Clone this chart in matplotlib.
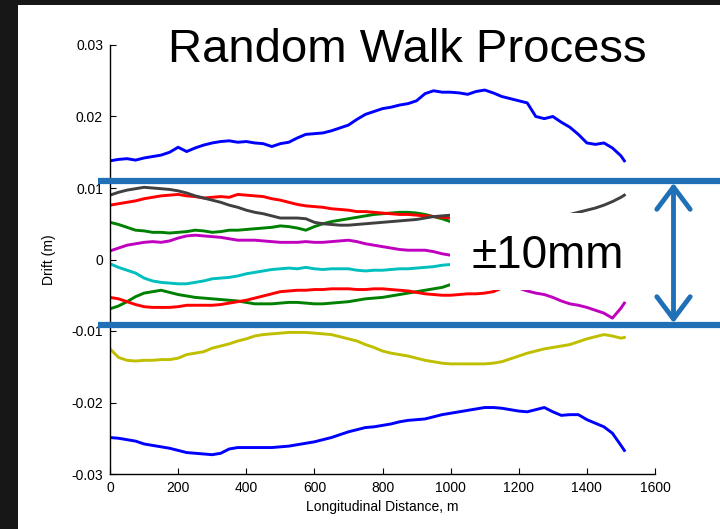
import matplotlib
matplotlib.use("Agg")
import matplotlib.pyplot as plt
from matplotlib.patches import Rectangle, FancyArrowPatch
from matplotlib.lines import Line2D

plt.rcParams['font.family'] = ['Liberation Sans', 'DejaVu Sans']
plt.rcParams['axes.unicode_minus'] = False

# ---------------- data ----------------
distance = list(range(0, 1501, 25)) + [1510]

blue_top = [0.0138, 0.0140, 0.0141, 0.0139, 0.0142, 0.0144, 0.0146, 0.0150, 0.0157, 0.0151,
            0.0156, 0.0160, 0.0163, 0.0165, 0.0166, 0.0164, 0.0165, 0.0163, 0.0162, 0.0158,
            0.0162, 0.0164, 0.0170, 0.0175, 0.0176, 0.0177, 0.0180, 0.0184, 0.0188, 0.0196,
            0.0203, 0.0207, 0.0211, 0.0213, 0.0216, 0.0218, 0.0222, 0.0232, 0.0236, 0.0234,
            0.0234, 0.0233, 0.0231, 0.0235, 0.0237, 0.0233, 0.0228, 0.0225, 0.0222, 0.0219,
            0.0200, 0.0197, 0.0200, 0.0192, 0.0185, 0.0175, 0.0163, 0.0161, 0.0163, 0.0156,
            0.0145, 0.0138]

gray = [0.0090, 0.0094, 0.0097, 0.0099, 0.0101, 0.0100, 0.0099, 0.0098, 0.0096, 0.0093,
        0.0089, 0.0086, 0.0083, 0.0080, 0.0076, 0.0073, 0.0069, 0.0066, 0.0064, 0.0061,
        0.0058, 0.0058, 0.0058, 0.0057, 0.0052, 0.0050, 0.0049, 0.0048, 0.0048, 0.0049,
        0.0050, 0.0051, 0.0052, 0.0053, 0.0054, 0.0055, 0.0056, 0.0058, 0.0060, 0.0061,
        0.0062, 0.0062, 0.0062, 0.0061, 0.0061, 0.0060, 0.0060, 0.0060, 0.0059, 0.0059,
        0.0059, 0.0060, 0.0060, 0.0061, 0.0063, 0.0066, 0.0069, 0.0072, 0.0076, 0.0081,
        0.0087, 0.0090]

red_top = [0.0076, 0.0078, 0.0080, 0.0082, 0.0085, 0.0087, 0.0089, 0.0090, 0.0091, 0.0089,
           0.0088, 0.0086, 0.0087, 0.0088, 0.0087, 0.0091, 0.0090, 0.0089, 0.0088, 0.0085,
           0.0083, 0.0080, 0.0077, 0.0075, 0.0074, 0.0073, 0.0071, 0.0070, 0.0069, 0.0067,
           0.0067, 0.0066, 0.0065, 0.0064, 0.0063, 0.0063, 0.0062, 0.0061, 0.0060, 0.0059,
           0.0058, 0.0057, 0.0056, 0.0055, 0.0054, 0.0054, 0.0053, 0.0052, 0.0051, 0.0050,
           0.0050, 0.0049, 0.0048, 0.0048, 0.0047, 0.0046, 0.0046, 0.0045, 0.0045, 0.0044,
           0.0044, 0.0044]

green_top = [0.0052, 0.0049, 0.0045, 0.0041, 0.0040, 0.0038, 0.0038, 0.0037, 0.0038, 0.0039,
             0.0041, 0.0040, 0.0038, 0.0039, 0.0041, 0.0041, 0.0042, 0.0043, 0.0044, 0.0045,
             0.0047, 0.0046, 0.0044, 0.0041, 0.0046, 0.0050, 0.0053, 0.0055, 0.0057, 0.0059,
             0.0061, 0.0063, 0.0064, 0.0065, 0.0066, 0.0066, 0.0065, 0.0063, 0.0060, 0.0057,
             0.0053, 0.0050, 0.0048, 0.0046, 0.0044, 0.0043, 0.0041, 0.0040, 0.0038, 0.0037,
             0.0036, 0.0035, 0.0034, 0.0033, 0.0033, 0.0032, 0.0031, 0.0031, 0.0030, 0.0030,
             0.0029, 0.0029]

magenta = [0.0012, 0.0016, 0.0020, 0.0022, 0.0024, 0.0025, 0.0024, 0.0026, 0.0030, 0.0033,
           0.0034, 0.0033, 0.0032, 0.0031, 0.0029, 0.0027, 0.0027, 0.0027, 0.0026, 0.0025,
           0.0024, 0.0024, 0.0024, 0.0025, 0.0024, 0.0024, 0.0025, 0.0026, 0.0027, 0.0025,
           0.0022, 0.0020, 0.0018, 0.0016, 0.0014, 0.0013, 0.0013, 0.0013, 0.0011, 0.0008,
           0.0006, 0.0000, -0.0006, -0.0012, -0.0018, -0.0024, -0.0030, -0.0035, -0.0040, -0.0044,
           -0.0047, -0.0049, -0.0053, -0.0058, -0.0062, -0.0064, -0.0067, -0.0071, -0.0075, -0.0082,
           -0.0068, -0.0061]

cyan = [-0.0006, -0.0011, -0.0015, -0.0019, -0.0026, -0.0030, -0.0032, -0.0033, -0.0034, -0.0034,
        -0.0032, -0.0030, -0.0027, -0.0026, -0.0025, -0.0023, -0.0020, -0.0018, -0.0016, -0.0014,
        -0.0013, -0.0012, -0.0013, -0.0011, -0.0013, -0.0014, -0.0013, -0.0013, -0.0013, -0.0015,
        -0.0016, -0.0015, -0.0015, -0.0014, -0.0013, -0.0013, -0.0012, -0.0011, -0.0010, -0.0008,
        -0.0007, -0.0006, -0.0006, -0.0005, -0.0005, -0.0006, -0.0007, -0.0008, -0.0009, -0.0010,
        -0.0011, -0.0012, -0.0013, -0.0014, -0.0015, -0.0016, -0.0017, -0.0018, -0.0019, -0.0020,
        -0.0021, -0.0021]

red_bottom = [-0.0053, -0.0055, -0.0059, -0.0063, -0.0066, -0.0067, -0.0067, -0.0067, -0.0066, -0.0064,
              -0.0064, -0.0064, -0.0064, -0.0063, -0.0061, -0.0059, -0.0057, -0.0054, -0.0051, -0.0048,
              -0.0045, -0.0044, -0.0043, -0.0043, -0.0042, -0.0042, -0.0041, -0.0041, -0.0041, -0.0042,
              -0.0042, -0.0041, -0.0041, -0.0042, -0.0043, -0.0044, -0.0046, -0.0048, -0.0049, -0.0050,
              -0.0050, -0.0049, -0.0048, -0.0048, -0.0047, -0.0045, -0.0040, -0.0037, -0.0035, -0.0034,
              -0.0033, -0.0032, -0.0031, -0.0030, -0.0029, -0.0028, -0.0028, -0.0027, -0.0027, -0.0026,
              -0.0026, -0.0026]

green_bottom = [-0.0069, -0.0065, -0.0059, -0.0052, -0.0047, -0.0045, -0.0043, -0.0046, -0.0049, -0.0051,
                -0.0053, -0.0054, -0.0055, -0.0056, -0.0057, -0.0058, -0.0060, -0.0062, -0.0062, -0.0062,
                -0.0061, -0.0060, -0.0060, -0.0061, -0.0062, -0.0062, -0.0061, -0.0060, -0.0059, -0.0057,
                -0.0055, -0.0054, -0.0053, -0.0051, -0.0049, -0.0047, -0.0045, -0.0043, -0.0041, -0.0039,
                -0.0035, -0.0034, -0.0033, -0.0032, -0.0031, -0.0030, -0.0030, -0.0029, -0.0028, -0.0028,
                -0.0027, -0.0027, -0.0026, -0.0026, -0.0025, -0.0025, -0.0024, -0.0024, -0.0023, -0.0023,
                -0.0022, -0.0022]

yellow = [-0.0125, -0.0137, -0.0141, -0.0142, -0.0141, -0.0141, -0.0140, -0.0140, -0.0138, -0.0133,
          -0.0131, -0.0129, -0.0124, -0.0121, -0.0118, -0.0114, -0.0111, -0.0107, -0.0105, -0.0104,
          -0.0103, -0.0102, -0.0102, -0.0102, -0.0103, -0.0104, -0.0105, -0.0108, -0.0111, -0.0114,
          -0.0119, -0.0123, -0.0128, -0.0131, -0.0133, -0.0135, -0.0138, -0.0141, -0.0143, -0.0145,
          -0.0146, -0.0146, -0.0146, -0.0146, -0.0146, -0.0145, -0.0143, -0.0139, -0.0135, -0.0131,
          -0.0128, -0.0125, -0.0123, -0.0121, -0.0119, -0.0115, -0.0111, -0.0108, -0.0105, -0.0107,
          -0.0110, -0.0109]

blue_bottom = [-0.0249, -0.0250, -0.0252, -0.0254, -0.0258, -0.0260, -0.0262, -0.0264, -0.0267, -0.0270,
               -0.0271, -0.0272, -0.0273, -0.0271, -0.0265, -0.0263, -0.0263, -0.0263, -0.0263, -0.0263,
               -0.0262, -0.0261, -0.0259, -0.0257, -0.0255, -0.0252, -0.0249, -0.0245, -0.0241, -0.0238,
               -0.0235, -0.0234, -0.0232, -0.0230, -0.0227, -0.0225, -0.0224, -0.0223, -0.0220, -0.0217,
               -0.0215, -0.0213, -0.0211, -0.0209, -0.0207, -0.0207, -0.0208, -0.0210, -0.0212, -0.0213,
               -0.0210, -0.0207, -0.0213, -0.0218, -0.0217, -0.0217, -0.0224, -0.0229, -0.0234, -0.0243,
               -0.0260, -0.0267]

series = [
    (blue_top, '#0000ff'),
    (blue_bottom, '#0000ff'),
    (yellow, '#bfbf00'),
    (green_bottom, '#008000'),
    (red_bottom, '#ff0000'),
    (cyan, '#00bfbf'),
    (magenta, '#bf00bf'),
    (green_top, '#008000'),
    (red_top, '#ff0000'),
    (gray, '#404040'),
]

x_ticks = [0, 200, 400, 600, 800, 1000, 1200, 1400, 1600]
y_ticks = [-0.03, -0.02, -0.01, 0, 0.01, 0.02, 0.03]
y_tick_labels = ['-0.03', '-0.02', '-0.01', '0', '0.01', '0.02', '0.03']

# ---------------- figure ----------------
W, H = 720, 529
fig = plt.figure(figsize=(W / 100, H / 100), dpi=100)
fig.patch.set_facecolor('#171717')

def fx(px):
    return px / W

def fy(py):
    return 1 - py / H

# white slide panel
fig.add_artist(Rectangle((fx(18), 0), 1 - fx(18), fy(5), transform=fig.transFigure,
                         facecolor='white', edgecolor='none', zorder=-10))

ax = fig.add_axes([fx(110), fy(474), fx(655) - fx(110), fy(45) - fy(474)])
ax.set_facecolor('none')
for vals, col in series:
    ax.plot(distance, vals, color=col, lw=2.1, solid_joinstyle='round')

ax.set_xlim(0, 1600)
ax.set_ylim(-0.03, 0.03)
ax.set_xticks(x_ticks)
ax.set_xticklabels([str(t) for t in x_ticks])
ax.set_yticks(y_ticks)
ax.set_yticklabels(y_tick_labels)
ax.spines['top'].set_visible(False)
ax.spines['right'].set_visible(False)
for s in ('left', 'bottom'):
    ax.spines[s].set_linewidth(1.0)
ax.tick_params(direction='in', length=4, width=0.8, labelsize=10, colors='black', pad=5)
ax.set_xlabel('Longitudinal Distance, m', fontsize=10, labelpad=4)
ax.set_ylabel('Drift (m)', fontsize=10, labelpad=11)

# white box behind the annotation text
fig.add_artist(Rectangle((fx(450), fy(290)), fx(640) - fx(450), fy(213) - fy(290),
                         transform=fig.transFigure, facecolor='white', edgecolor='none', zorder=1))

# blue band lines
band = '#1f70b6'
for py in (181, 325):
    fig.add_artist(Line2D([fx(98), 1.0], [fy(py), fy(py)], transform=fig.transFigure,
                          color=band, lw=4.5, solid_capstyle='butt', zorder=2))

arrow = FancyArrowPatch((fx(673.5), fy(183)), (fx(673.5), fy(323)), transform=fig.transFigure,
                        arrowstyle='<->,head_length=0.8,head_width=0.6', mutation_scale=20,
                        color=band, lw=3.5, zorder=2, shrinkA=0, shrinkB=0)
fig.add_artist(arrow)

fig.text(fx(407), fy(62), 'Random Walk Process', fontsize=34, ha='center', va='baseline',
         color='black')
fig.text(fx(548), fy(268), '±10mm', fontsize=33, ha='center', va='baseline', color='black', zorder=3)

fig.savefig('out.png', dpi=100, facecolor=fig.get_facecolor())
